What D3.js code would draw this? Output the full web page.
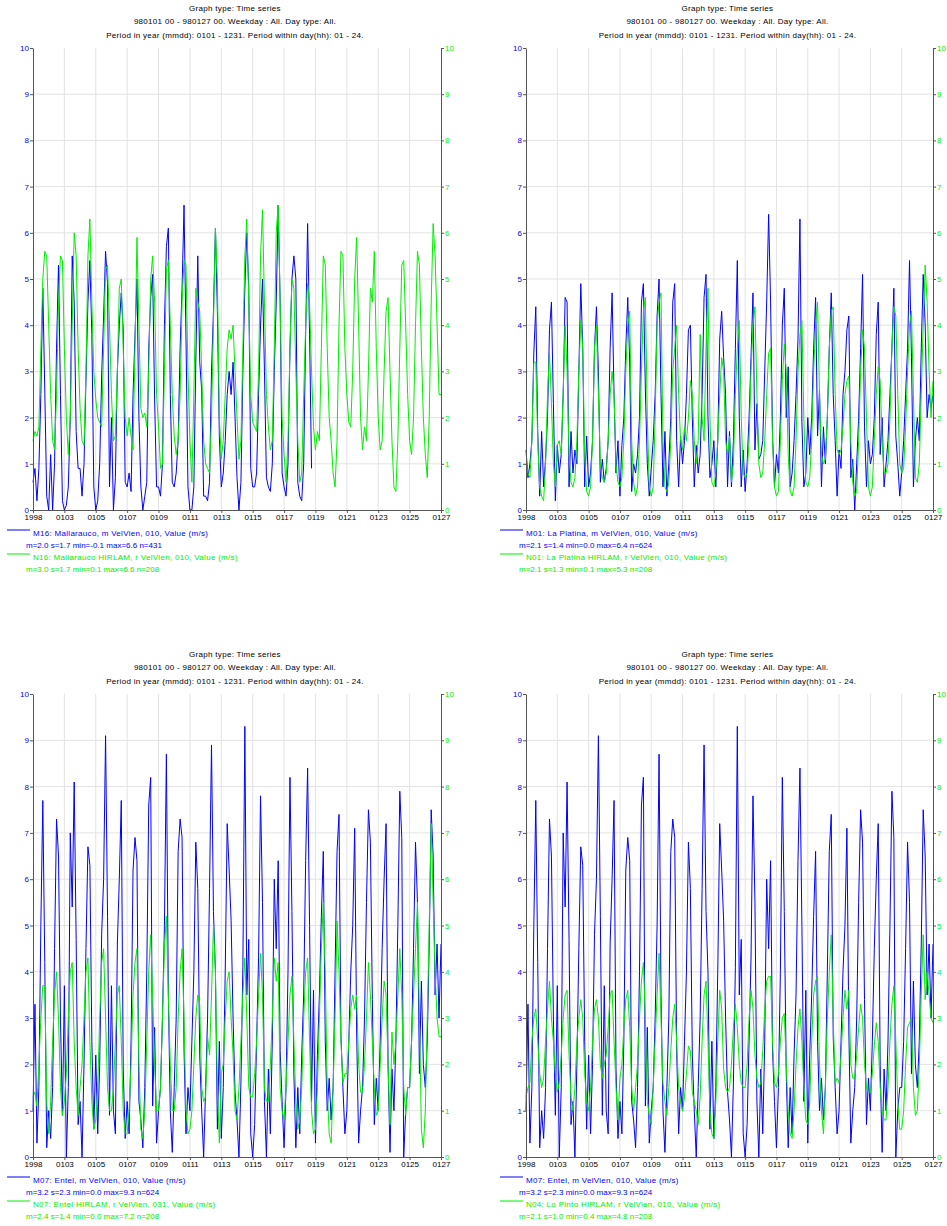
<!DOCTYPE html>
<html>
<head>
<meta charset="UTF-8">
<title>Time series</title>
<script src="https://cdn.jsdelivr.net/npm/d3@7"></script>
<style>
  body { margin: 0; background: #fff; }
  text { font-family: "Liberation Sans", Arial, sans-serif; font-size: 8px; }
  .wide { letter-spacing: 0.3px; }
</style>
</head>
<body>
<div class="canvas"></div>
<script>
// x axis labels, one every 2 days from 980101 00 to 980127 00
const tickLabels = ['1998', '0103', '0105', '0107', '0109', '0111', '0113', '0115', '0117', '0119', '0121', '0123', '0125', '0127']
const stepHours = 3  // values below are read every 3 hours, 8 per day

// M16 Mallarauco measured (ends ~0118)
const m16 = [
  0.6, 0.9, 0.2, 0.9, 2.5, 4.8, 2.6, 0.3,
  0.0, 1.2, 0.0, 1.0, 3.5, 5.3, 2.5, 0.2,
  0.0, 0.1, 0.5, 2.0, 5.5, 4.5, 1.7, 0.9,
  0.9, 0.3, 1.0, 2.8, 4.5, 5.4, 3.8, 0.5,
  0.0, 0.2, 1.0, 2.9, 4.2, 5.6, 4.9, 0.5,
  2.0, 0.0, 0.7, 3.0, 4.0, 4.7, 3.9, 0.6,
  0.5, 0.8, 0.4, 2.5, 3.8, 5.0, 2.0, 0.5,
  0.0, 0.3, 0.6, 3.5, 4.6, 5.1, 2.4, 0.5,
  0.5, 0.3, 1.0, 4.0, 5.7, 6.1, 2.5, 0.6,
  0.5, 0.8, 1.5, 3.5, 4.8, 6.6, 3.7, 0.5,
  0.0, 0.0, 0.5, 3.2, 5.5, 3.2, 2.6, 0.3,
  0.3, 0.2, 0.6, 3.0, 4.3, 6.1, 4.3, 1.6,
  0.5, 0.8, 1.5, 2.5, 3.0, 2.5, 3.2, 2.0,
  0.7, 0.0, 0.6, 3.0, 4.8, 6.0, 4.8, 0.9,
  0.5, 0.5, 0.8, 2.5, 4.0, 5.0, 3.0, 0.7,
  0.5, 0.4, 1.0, 3.0, 4.5, 6.6, 4.5, 0.8,
  0.5, 0.3, 1.0, 3.5, 5.0, 5.5, 5.0, 0.6,
  0.3, 0.2, 1.0, 3.8, 6.2, 3.8, 0.9
]
// N16 Mallarauco HIRLAM
const n16 = [
  1.5, 1.7, 1.6, 1.8, 3.5, 5.0, 5.6, 5.5,
  4.0, 2.5, 1.5, 1.3, 2.5, 4.5, 5.5, 5.4,
  3.5, 2.0, 1.2, 2.0, 4.0, 6.0, 5.5, 3.5,
  2.2, 1.5, 1.4, 3.0, 5.5, 6.3, 4.5, 3.0,
  2.4, 2.0, 1.9, 1.8, 3.5, 5.2, 5.3, 4.0,
  2.5, 1.5, 1.6, 3.0, 4.8, 5.0, 3.5, 2.0,
  1.6, 2.0, 1.6, 1.3, 3.5, 5.9, 4.0, 2.2,
  2.0, 2.1, 1.8, 3.0, 5.0, 5.5, 4.5, 2.5,
  1.8, 0.9, 1.0, 3.0, 5.2, 5.4, 4.0, 2.5,
  1.6, 1.2, 1.5, 2.5, 4.5, 5.4, 5.3, 3.0,
  1.5, 0.6, 2.5, 4.8, 4.5, 4.3, 3.0, 1.5,
  1.0, 0.9, 0.8, 2.0, 4.0, 6.1, 5.0, 2.0,
  1.1, 1.5, 2.5, 3.5, 3.9, 3.7, 4.0, 3.0,
  2.0, 1.1, 1.5, 3.5, 5.5, 6.3, 4.5, 2.5,
  1.9, 1.8, 1.7, 3.0, 5.5, 6.5, 4.5, 2.5,
  1.8, 1.3, 1.5, 3.5, 6.0, 6.6, 4.5, 2.0,
  1.2, 0.6, 1.5, 3.5, 5.0, 4.8, 3.0, 1.5,
  0.6, 0.8, 2.5, 4.0, 4.9, 4.5, 3.0, 1.8,
  1.3, 1.7, 1.5, 3.5, 5.5, 5.3, 3.5, 2.0,
  1.5, 0.8, 0.5, 1.5, 4.0, 5.6, 5.5, 3.5,
  2.5, 1.9, 1.8, 3.0, 5.0, 5.9, 4.0, 2.0,
  1.3, 1.8, 1.5, 3.0, 4.8, 4.5, 5.6, 3.5,
  2.0, 1.3, 1.5, 3.0, 4.3, 4.6, 3.0, 1.5,
  0.5, 0.4, 1.5, 3.5, 5.3, 5.4, 4.0, 2.5,
  1.5, 1.2, 2.0, 4.0, 5.6, 5.3, 3.5, 2.0,
  1.2, 0.7, 2.0, 4.5, 6.2, 5.5, 4.0, 2.5,
  2.5
]
// M01 La Platina measured
const m01 = [
  1.3, 0.7, 1.0, 1.5, 3.4, 4.4, 1.7, 0.3,
  1.7, 0.5, 1.1, 2.0, 3.9, 4.5, 2.3, 0.2,
  1.4, 0.8, 1.2, 2.5, 4.6, 4.5, 0.5, 1.7,
  0.8, 1.3, 1.0, 3.0, 4.9, 3.5, 0.5, 1.6,
  0.5, 0.8, 1.5, 3.5, 4.4, 3.0, 0.6, 1.1,
  0.6, 0.9, 1.5, 3.5, 4.7, 2.5, 0.8, 1.5,
  0.3, 1.4, 2.0, 3.5, 4.6, 3.2, 0.4, 1.0,
  0.8, 1.2, 2.0, 4.5, 4.9, 2.6, 1.0, 0.3,
  0.9, 1.5, 2.5, 4.2, 5.0, 2.5, 0.5, 1.7,
  0.3, 1.0, 2.0, 4.5, 4.9, 1.5, 0.5, 1.6,
  1.0, 1.5, 2.5, 3.9, 4.0, 2.0, 0.5, 1.4,
  0.8, 1.2, 2.5, 4.6, 5.1, 2.0, 0.7, 1.0,
  1.5, 0.5, 1.5, 3.7, 4.3, 3.3, 2.5, 0.5,
  1.7, 0.5, 1.5, 3.5, 5.4, 2.0, 0.5, 1.3,
  0.4, 1.0, 2.0, 3.3, 4.7, 1.3, 2.3, 1.1,
  1.2, 1.5, 3.0, 4.5, 6.4, 4.5, 1.6, 0.5,
  1.2, 0.8, 2.0, 4.0, 4.8, 2.0, 3.1, 0.5,
  0.8, 1.5, 2.5, 3.7, 6.3, 1.9, 0.5, 0.8,
  2.0, 1.2, 2.0, 3.5, 4.6, 1.6, 2.6, 0.5,
  1.8, 1.0, 2.0, 3.5, 4.7, 2.5, 1.5, 0.3,
  1.3, 0.9, 2.5, 3.0, 3.9, 4.2, 0.7, 1.1,
  0.0, 1.0, 2.0, 3.5, 5.1, 1.8, 0.5, 1.5,
  1.0, 1.2, 2.0, 3.8, 4.5, 1.2, 2.0, 0.5,
  1.0, 1.5, 2.5, 3.5, 4.8, 1.6, 1.0, 0.3,
  0.8, 1.5, 2.5, 3.5, 5.4, 3.3, 0.5, 1.5,
  2.0, 1.5, 3.5, 5.1, 4.0, 2.0, 2.5, 2.2,
  2.5
]
// N01 La Platina HIRLAM
const n01 = [
  1.0, 0.8, 0.7, 1.5, 3.2, 3.2, 1.5, 0.5,
  0.3, 0.2, 1.0, 2.5, 3.4, 2.3, 1.0, 0.5,
  1.4, 1.5, 1.2, 2.5, 4.0, 3.0, 1.2, 0.6,
  0.5, 0.7, 1.5, 3.0, 4.1, 3.5, 1.2, 0.4,
  0.3, 0.5, 1.5, 3.5, 4.0, 2.5, 1.0, 0.7,
  0.6, 0.8, 1.5, 2.5, 3.0, 2.5, 1.0, 0.6,
  0.5, 0.7, 1.5, 3.0, 4.0, 4.3, 1.5, 0.6,
  0.3, 0.5, 1.5, 3.0, 4.3, 4.6, 2.0, 0.5,
  0.3, 0.5, 2.0, 4.0, 4.5, 4.7, 1.5, 0.5,
  0.4, 0.6, 1.5, 3.0, 3.5, 4.0, 2.5, 1.5,
  1.3, 1.8, 1.5, 2.0, 2.8, 2.5, 1.5, 1.0,
  1.5, 3.8, 2.0, 1.5, 3.5, 4.8, 2.0, 0.6,
  0.5, 0.8, 1.5, 2.5, 3.3, 3.0, 1.5, 1.2,
  1.6, 0.6, 1.0, 2.5, 3.5, 4.1, 2.0, 0.8,
  0.7, 0.8, 1.5, 3.0, 4.0, 4.4, 2.5, 1.0,
  0.7, 0.8, 1.5, 2.5, 3.4, 3.5, 1.5, 0.5,
  0.3, 0.4, 1.5, 2.8, 3.6, 3.0, 1.2, 0.4,
  0.3, 0.5, 1.5, 3.0, 3.8, 4.1, 2.0, 0.6,
  0.5, 0.7, 1.5, 3.0, 4.0, 4.5, 2.5, 1.2,
  1.0, 1.1, 2.0, 3.5, 4.3, 4.4, 2.5, 1.3,
  1.2, 1.3, 1.8, 2.5, 2.8, 2.9, 1.5, 0.6,
  0.3, 0.4, 1.5, 3.0, 3.9, 3.5, 2.0, 0.5,
  0.3, 0.5, 1.5, 2.5, 3.1, 2.8, 1.5, 0.8,
  0.8, 1.0, 2.0, 3.5, 4.4, 4.2, 2.5, 1.0,
  0.8, 0.9, 1.8, 3.0, 4.0, 4.3, 2.5, 0.7,
  0.6, 1.0, 2.5, 4.0, 5.3, 4.5, 3.0, 2.0,
  2.8
]
// M07 Entel measured (used in both lower panels)
const m07 = [
  1.0, 3.3, 0.3, 1.5, 5.0, 7.7, 4.2, 0.2,
  1.0, 0.4, 1.5, 4.5, 7.3, 6.5, 3.0, 0.9,
  3.7, 0.0, 1.5, 7.0, 5.4, 8.1, 4.7, 0.7,
  1.2, 0.0, 2.0, 4.5, 6.7, 6.3, 2.5, 0.6,
  2.2, 0.5, 2.0, 4.8, 6.0, 9.1, 5.2, 0.9,
  3.7, 1.0, 0.5, 4.6, 6.0, 7.7, 1.9, 0.4,
  1.2, 0.5, 2.5, 6.2, 6.9, 6.4, 1.2, 0.8,
  0.2, 1.5, 4.0, 7.6, 8.2, 1.1, 2.8, 0.3,
  1.0, 1.5, 3.0, 5.0, 8.7, 3.5, 1.0, 0.1,
  1.5, 3.0, 6.6, 7.3, 6.9, 2.3, 0.5, 1.5,
  1.0, 2.5, 4.0, 6.8, 5.8, 2.2, 1.0, 0.0,
  1.5, 3.0, 5.8, 8.9, 5.3, 4.0, 0.6, 2.5,
  0.4, 1.5, 4.0, 7.2, 6.2, 5.1, 3.0, 1.4,
  0.8, 0.0, 1.6, 4.1, 9.3, 3.5, 4.7, 0.5,
  0.0, 0.7, 2.5, 4.3, 7.8, 5.5, 1.2, 0.0,
  1.9, 0.5, 2.5, 6.0, 4.5, 6.4, 2.3, 1.2,
  0.2, 1.5, 4.0, 8.2, 5.3, 1.8, 0.2, 1.5,
  0.5, 2.2, 3.5, 6.4, 8.4, 5.0, 1.2, 3.6,
  0.3, 2.2, 3.5, 5.2, 6.6, 2.5, 1.0, 1.7,
  0.8, 1.5, 4.0, 6.6, 7.4, 2.6, 1.5, 0.5,
  1.0, 2.5, 4.0, 5.0, 7.1, 2.7, 0.3, 1.0,
  1.5, 3.0, 5.5, 7.5, 6.8, 3.4, 0.7, 1.7,
  1.0, 2.5, 4.5, 6.0, 7.2, 2.0, 0.1, 1.9,
  1.0, 2.5, 5.0, 7.9, 6.9, 0.0, 1.0, 1.5,
  1.5, 2.5, 4.5, 6.8, 5.5, 1.8, 3.8, 2.0,
  1.5, 2.5, 4.6, 7.5, 6.5, 3.5, 4.6, 3.0,
  4.6
]
// N07 Entel HIRLAM
const n07 = [
  1.3, 1.4, 1.1, 2.0, 3.0, 3.7, 3.7, 1.2,
  0.5, 1.2, 2.5, 3.5, 4.0, 3.0, 1.5, 0.9,
  1.2, 1.8, 3.0, 4.0, 4.2, 2.5, 1.5, 0.9,
  1.5, 2.0, 3.0, 4.0, 4.3, 2.5, 1.2, 0.6,
  0.8, 1.5, 3.0, 4.2, 4.5, 3.0, 1.5, 1.0,
  1.0, 1.5, 2.5, 3.5, 3.7, 2.5, 1.0, 0.5,
  0.5, 1.0, 2.0, 3.5, 4.2, 4.5, 2.0, 0.6,
  0.4, 1.0, 2.5, 4.0, 4.8, 3.5, 2.0, 1.0,
  1.0, 1.5, 3.0, 4.5, 5.2, 3.5, 2.0, 1.0,
  1.0, 1.5, 3.0, 4.0, 4.5, 3.0, 1.0, 0.5,
  0.6, 1.0, 2.0, 3.0, 3.5, 3.3, 1.5, 1.2,
  1.3, 2.6, 2.2, 3.5, 5.0, 4.0, 1.5, 0.3,
  1.8, 2.0, 3.0, 3.8, 4.0, 3.0, 2.2, 1.0,
  0.8, 1.5, 2.5, 3.5, 4.3, 3.0, 1.5, 1.3,
  1.3, 1.8, 2.5, 3.5, 4.4, 3.5, 1.5, 1.2,
  1.2, 2.0, 3.0, 4.3, 3.8, 4.2, 1.5, 1.0,
  0.8, 1.5, 2.5, 3.5, 3.9, 2.5, 1.2, 0.6,
  0.8, 1.5, 3.0, 4.0, 4.3, 2.5, 1.0, 0.5,
  0.6, 1.5, 3.0, 4.5, 5.5, 4.0, 1.5, 0.5,
  0.3, 1.5, 3.0, 5.1, 4.0, 2.5, 1.6, 1.8,
  1.8, 2.5, 3.2, 3.5, 3.2, 3.5, 2.0, 1.4,
  1.4, 2.0, 3.0, 4.2, 3.5, 2.5, 1.5, 0.9,
  1.0, 2.0, 3.0, 3.8, 3.5, 2.0, 0.7, 2.7,
  2.0, 2.5, 3.5, 4.5, 3.5, 1.5, 0.9, 1.5,
  1.5, 2.5, 3.5, 4.5, 5.5, 3.0, 0.6, 0.2,
  1.0, 3.0, 5.0, 7.2, 5.5, 4.0, 3.0, 2.6,
  2.6
]
// N04 Lo Pinto HIRLAM
const n04 = [
  1.3, 1.5, 1.6, 2.5, 3.0, 3.2, 2.5, 1.8,
  1.5, 1.7, 2.5, 3.2, 3.8, 3.0, 2.5, 1.8,
  1.4, 1.6, 2.2, 3.0, 3.5, 3.6, 2.2, 1.3,
  1.0, 1.5, 2.5, 3.0, 3.4, 3.0, 1.8, 1.2,
  1.0, 1.5, 2.5, 3.2, 3.4, 3.0, 2.0, 1.7,
  2.0, 2.2, 2.8, 3.5, 3.6, 2.5, 1.5, 0.8,
  1.7, 2.0, 2.8, 3.4, 3.6, 2.8, 1.5, 1.0,
  1.5, 2.0, 3.0, 3.8, 4.2, 3.0, 1.2, 0.9,
  0.7, 1.5, 2.5, 3.5, 4.4, 3.0, 1.6, 1.2,
  0.9, 1.5, 2.3, 3.0, 3.3, 2.5, 1.5, 1.2,
  1.0, 1.3, 1.8, 2.4, 2.3, 1.4, 1.2, 1.0,
  0.7, 1.3, 2.5, 3.5, 3.8, 2.5, 1.0, 0.5,
  0.4, 1.2, 2.5, 3.6, 3.2, 1.9, 1.5, 1.4,
  1.5, 2.0, 2.8, 3.3, 2.8, 2.0, 1.6, 1.5,
  1.5, 2.0, 3.0, 3.6, 3.2, 2.2, 1.7, 1.5,
  1.6, 2.3, 3.2, 3.8, 3.9, 3.9, 2.5, 1.6,
  1.5, 1.8, 2.5, 3.0, 3.1, 2.0, 1.0, 0.5,
  0.4, 1.0, 2.0, 2.8, 3.2, 2.5, 1.5, 0.8,
  0.7, 1.2, 2.5, 3.5, 3.8, 3.9, 2.0, 1.0,
  0.5, 1.5, 3.0, 4.0, 4.8, 3.0, 1.6, 1.7,
  1.6, 2.2, 3.0, 3.6, 3.2, 3.6, 2.0, 1.7,
  1.7, 2.2, 2.8, 3.3, 3.0, 2.0, 1.5, 1.4,
  1.4, 1.8, 2.4, 2.9, 2.5, 1.5, 1.0, 0.8,
  0.8, 1.5, 2.5, 3.3, 3.7, 2.5, 1.2, 0.6,
  0.6, 1.0, 2.0, 2.8, 2.9, 3.0, 1.5, 0.9,
  1.0, 2.0, 3.5, 4.8, 3.4, 4.0, 3.5, 3.0,
  2.9
]

const titleLines = [
  'Graph type: Time series',
  '980101 00 - 980127 00. Weekday : All. Day type: All.',
  'Period in year (mmdd): 0101 - 1231. Period within day(hh): 01 - 24.'
]

const panels = [
  { left: 33, right: 441, top: 48, bottom: 510, blue: m16, green: n16,
    legend: ['M16: Mallarauco, m VelVien, 010, Value (m/s)', 'm=2.0 s=1.7 min=-0.1 max=6.6 n=431',
             'N16: Mallarauco HIRLAM, r VelVien, 010, Value (m/s)', 'm=3.0 s=1.7 min=0.1 max=6.6 n=208'] },
  { left: 526, right: 933, top: 48, bottom: 510, blue: m01, green: n01,
    legend: ['M01: La Platina, m VelVien, 010, Value (m/s)', 'm=2.1 s=1.4 min=0.0 max=6.4 n=624',
             'N01: La Platina HIRLAM, r VelVien, 010, Value (m/s)', 'm=2.1 s=1.3 min=0.1 max=5.3 n=208'] },
  { left: 33, right: 441, top: 694, bottom: 1157, blue: m07, green: n07,
    legend: ['M07: Entel, m VelVien, 010, Value (m/s)', 'm=3.2 s=2.3 min=0.0 max=9.3 n=624',
             'N07: Entel HIRLAM, r VelVien, 031, Value (m/s)', 'm=2.4 s=1.4 min=0.0 max=7.2 n=208'] },
  { left: 526, right: 933, top: 694, bottom: 1157, blue: m07, green: n04,
    legend: ['M07: Entel, m VelVien, 010, Value (m/s)', 'm=3.2 s=2.3 min=0.0 max=9.3 n=624',
             'N04: Lo Pinto HIRLAM, r VelVien, 010, Value (m/s)', 'm=2.1 s=1.0 min=0.4 max=4.8 n=208'] }
]

const BLUE = '#0000ff'
const GREEN = '#00ee00'

const svg = d3.select('.canvas')
  .append('svg')
  .attr('width', 947)
  .attr('height', 1226)

panels.forEach(p => {
  const g = svg.append('g')
  const hours = (tickLabels.length - 1) * 48
  const x = d3.scaleLinear().domain([0, hours]).range([p.left, p.right])
  const y = d3.scaleLinear().domain([0, 10]).range([p.bottom, p.top])

  // title
  const cx = (p.left + p.right) / 2 - 2
  g.selectAll('.title')
    .data(titleLines)
    .enter()
    .append('text')
    .attr('class', 'wide')
    .attr('x', cx)
    .attr('y', (d, i) => p.top - 37.5 + i * 13.5)
    .attr('text-anchor', 'middle')
    .attr('fill', '#000')
    .text(d => d)

  // grid
  g.selectAll('.hgrid')
    .data(d3.range(1, 10))
    .enter()
    .append('line')
    .attr('x1', p.left).attr('x2', p.right)
    .attr('y1', d => y(d)).attr('y2', d => y(d))
    .attr('stroke', '#e3e3e3')
  g.selectAll('.vgrid')
    .data(d3.range(48, hours, 48))
    .enter()
    .append('line')
    .attr('x1', d => x(d)).attr('x2', d => x(d))
    .attr('y1', p.bottom).attr('y2', p.top)
    .attr('stroke', '#e3e3e3')

  // series
  const line = d3.line()
    .x((d, i) => x(i * stepHours))
    .y(d => y(d))
  g.append('path')
    .attr('d', line(p.blue))
    .attr('fill', 'none')
    .attr('stroke', BLUE)
    .attr('stroke-width', 1)
  g.append('path')
    .attr('d', line(p.green))
    .attr('fill', 'none')
    .attr('stroke', GREEN)
    .attr('stroke-width', 1)

  // axes
  const left = g.append('g')
    .attr('transform', `translate(${p.left},0)`)
    .call(d3.axisLeft(y).tickValues(d3.range(0, 11)).tickSize(3).tickSizeOuter(0).tickPadding(1))
  left.selectAll('text').attr('fill', BLUE).style('font-size', '8px')
  const right = g.append('g')
    .attr('transform', `translate(${p.right},0)`)
    .call(d3.axisRight(y).tickValues(d3.range(0, 11)).tickSize(3).tickSizeOuter(0).tickPadding(1))
  right.selectAll('text').attr('fill', GREEN).style('font-size', '8px')
  const bottom = g.append('g')
    .attr('transform', `translate(0,${p.bottom})`)
    .call(d3.axisBottom(x).tickValues(d3.range(0, hours + 1, 48))
      .tickFormat((d, i) => tickLabels[i]).tickSize(3).tickSizeOuter(0).tickPadding(1))
  bottom.selectAll('text').attr('fill', '#000').style('font-size', '8px')
  g.selectAll('.domain, .tick line').attr('stroke', '#555')

  // legend
  const ly = p.bottom + 26
  g.append('line')
    .attr('x1', p.left - 26).attr('x2', p.left - 3)
    .attr('y1', ly - 6).attr('y2', ly - 6)
    .attr('stroke', BLUE)
  g.append('line')
    .attr('x1', p.left - 26).attr('x2', p.left - 3)
    .attr('y1', ly + 18).attr('y2', ly + 18)
    .attr('stroke', GREEN)
  g.selectAll('.leg')
    .data(p.legend)
    .enter()
    .append('text')
    .attr('class', (d, i) => i % 2 === 0 ? 'wide' : null)
    .attr('x', (d, i) => i % 2 === 0 ? p.left : p.left - 7)
    .attr('y', (d, i) => ly + i * 12)
    .attr('fill', (d, i) => i < 2 ? BLUE : GREEN)
    .text(d => d)
})
</script>
</body>
</html>
